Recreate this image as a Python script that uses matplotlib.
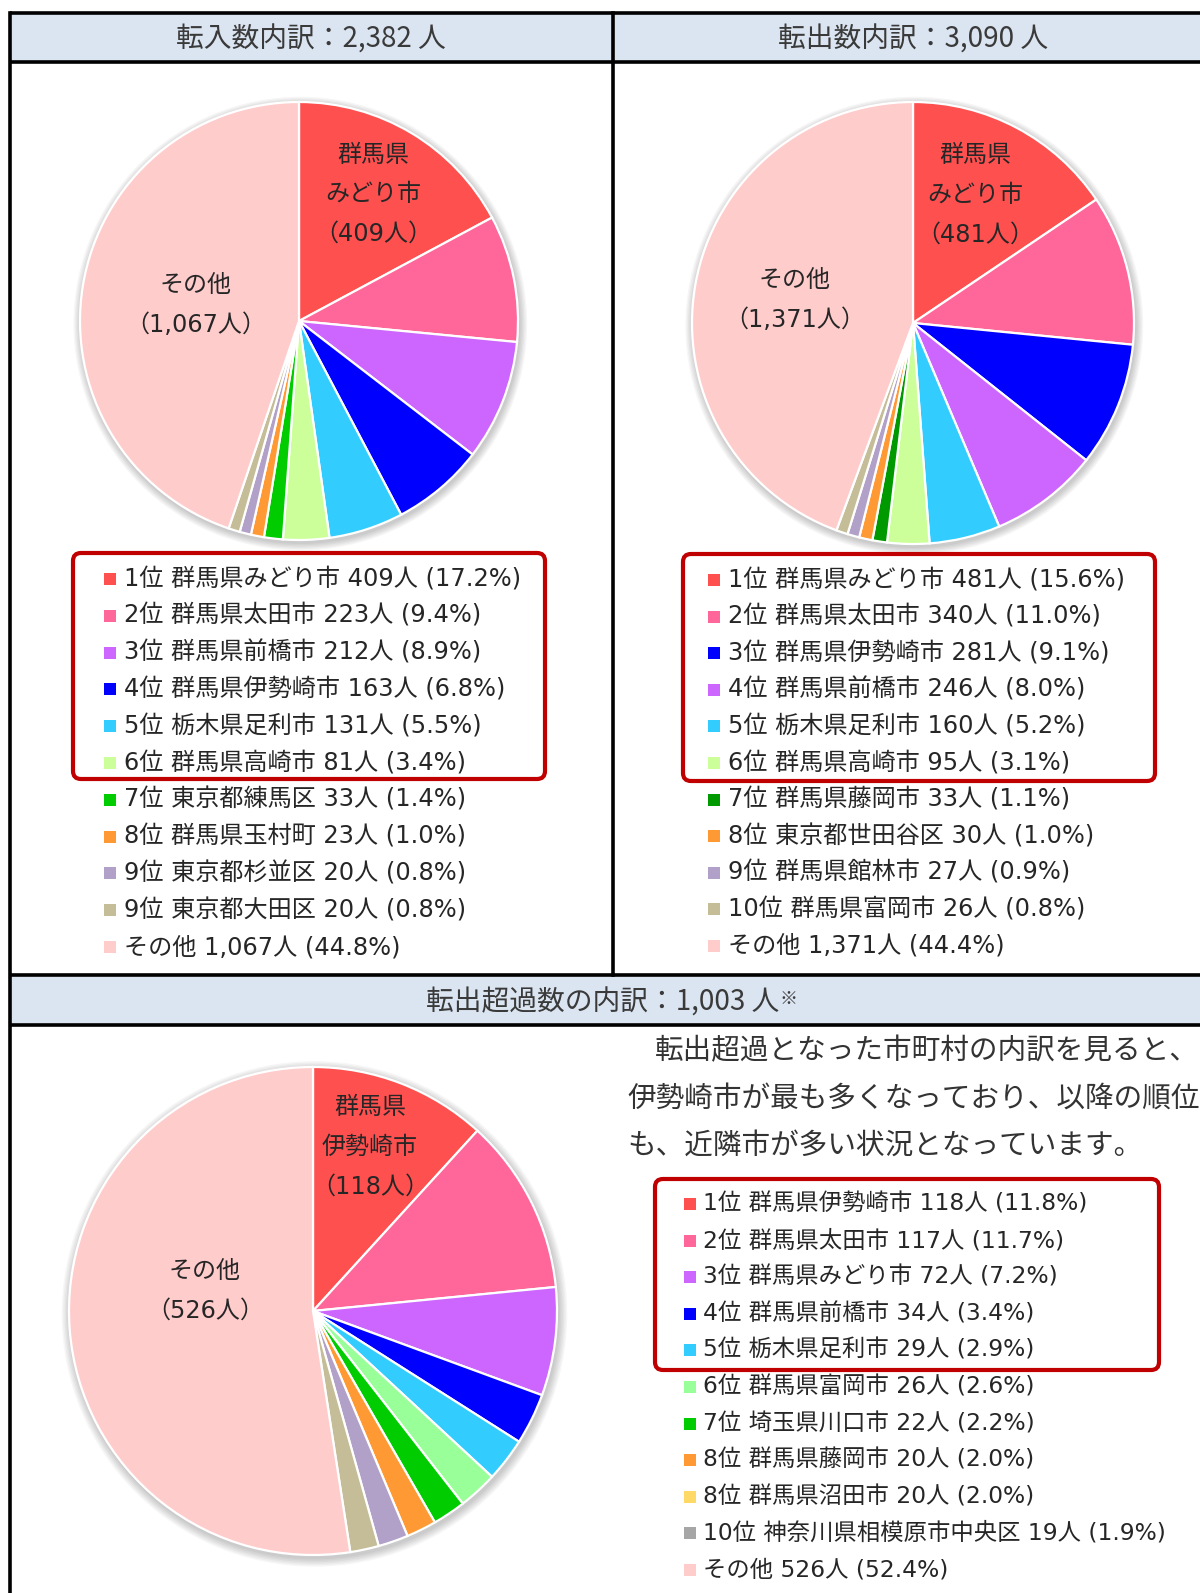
import matplotlib
matplotlib.use('Agg')
import matplotlib.pyplot as plt
from matplotlib.patches import Rectangle, FancyBboxPatch, Circle

plt.rcParams['font.family'] = ['DejaVu Sans', 'Noto Sans CJK JP']

# ---------------- data ----------------
titles = ["転入数内訳：2,382 人", "転出数内訳：3,090 人", "転出超過数の内訳：1,003 人"]
title_note = "※"

in_ranks = ["1位", "2位", "3位", "4位", "5位", "6位", "7位", "8位", "9位", "9位", ""]
in_names = ["群馬県みどり市", "群馬県太田市", "群馬県前橋市", "群馬県伊勢崎市", "栃木県足利市",
            "群馬県高崎市", "東京都練馬区", "群馬県玉村町", "東京都杉並区", "東京都大田区", "その他"]
in_values = [409, 223, 212, 163, 131, 81, 33, 23, 20, 20, 1067]
in_pcts = ["17.2", "9.4", "8.9", "6.8", "5.5", "3.4", "1.4", "1.0", "0.8", "0.8", "44.8"]

out_ranks = ["1位", "2位", "3位", "4位", "5位", "6位", "7位", "8位", "9位", "10位", ""]
out_names = ["群馬県みどり市", "群馬県太田市", "群馬県伊勢崎市", "群馬県前橋市", "栃木県足利市",
             "群馬県高崎市", "群馬県藤岡市", "東京都世田谷区", "群馬県館林市", "群馬県富岡市", "その他"]
out_values = [481, 340, 281, 246, 160, 95, 33, 30, 27, 26, 1371]
out_pcts = ["15.6", "11.0", "9.1", "8.0", "5.2", "3.1", "1.1", "1.0", "0.9", "0.8", "44.4"]

net_ranks = ["1位", "2位", "3位", "4位", "5位", "6位", "7位", "8位", "8位", "10位", ""]
net_names = ["群馬県伊勢崎市", "群馬県太田市", "群馬県みどり市", "群馬県前橋市", "栃木県足利市",
             "群馬県富岡市", "埼玉県川口市", "群馬県藤岡市", "群馬県沼田市", "神奈川県相模原市中央区", "その他"]
net_values = [118, 117, 72, 34, 29, 26, 22, 20, 20, 19, 526]
net_pcts = ["11.8", "11.7", "7.2", "3.4", "2.9", "2.6", "2.2", "2.0", "2.0", "1.9", "52.4"]

RED, PINK, PURPLE, BLUE, CYAN = "#FF5050", "#FF6699", "#CC66FF", "#0000FF", "#33CCFF"
LGREEN, GREEN, DGREEN, ORANGE = "#CCFF99", "#00CC00", "#009900", "#FF9933"
LAV, TAN, OTHER, MINT, YEL, GRAY = "#B1A0C7", "#C4BD97", "#FFCCCC", "#99FF99", "#FFD966", "#A6A6A6"

in_colors = [RED, PINK, PURPLE, BLUE, CYAN, LGREEN, GREEN, ORANGE, LAV, TAN, OTHER]
out_colors = [RED, PINK, BLUE, PURPLE, CYAN, LGREEN, DGREEN, ORANGE, LAV, TAN, OTHER]
net_colors = [RED, PINK, PURPLE, BLUE, CYAN, MINT, GREEN, ORANGE, LAV, TAN, OTHER]
net_legend_colors = [RED, PINK, PURPLE, BLUE, CYAN, MINT, GREEN, ORANGE, YEL, GRAY, OTHER]

paragraph = ["転出超過となった市町村の内訳を見ると、",
             "伊勢崎市が最も多くなっており、以降の順位",
             "も、近隣市が多い状況となっています。"]

# ---------------- figure ----------------
W, H, DPI = 1200, 1593, 100
fig = plt.figure(figsize=(W / DPI, H / DPI), dpi=DPI)
fig.patch.set_facecolor("white")

base = fig.add_axes([0, 0, 1, 1], zorder=0)
base.set_xlim(0, W); base.set_ylim(H, 0); base.axis("off")

HEAD = "#DBE5F1"
LW = 2.6
base.add_patch(Rectangle((10, 13), W - 10, 49, facecolor=HEAD, edgecolor="none"))
base.add_patch(Rectangle((10, 975), W - 10, 50, facecolor=HEAD, edgecolor="none"))
for y in (13, 62, 975, 1025):
    base.plot([10, W], [y, y], color="black", lw=LW, solid_capstyle="butt")
base.plot([10, 10], [13, H], color="black", lw=LW)
base.plot([613, 613], [13, 975], color="black", lw=LW)

TXT = "#3A3A3A"
HFS = 20.0
base.text(311, 40, titles[0], ha="center", va="center", fontsize=HFS, color=TXT,
          family=["Noto Sans CJK JP"])
base.text(913, 40, titles[1], ha="center", va="center", fontsize=HFS, color=TXT,
          family=["Noto Sans CJK JP"])
t3 = base.text(603, 1003, titles[2], ha="center", va="center", fontsize=HFS, color=TXT,
               family=["Noto Sans CJK JP"])
base.annotate(title_note, xy=(1.0, 0.95), xycoords=t3, ha="left", va="top",
              fontsize=13, color=TXT, family=["Noto Sans CJK JP"])


def draw_pie(values, colors, cx, cy, r):
    pad = 1.08
    R = r * pad
    ax = fig.add_axes([(cx - R) / W, 1 - (cy + R) / H, 2 * R / W, 2 * R / H], zorder=1)
    ax.set_xlim(-pad, pad); ax.set_ylim(-pad, pad); ax.set_aspect("equal"); ax.axis("off")
    for k in range(6):
        ax.add_patch(Circle((0.006, -0.012), 1 + 0.006 * (k + 1), facecolor="#000000",
                            alpha=0.035, edgecolor="none", zorder=0))
    ax.add_patch(Circle((0, 0), 1.0, facecolor="white", edgecolor="none", zorder=0.5))
    ax.pie(values, colors=colors, startangle=90, counterclock=False, radius=1.0,
           wedgeprops=dict(edgecolor="white", linewidth=1.6))
    ax.set_xlim(-pad, pad); ax.set_ylim(-pad, pad)
    return ax


draw_pie(in_values, in_colors, 299, 321, 219)
draw_pie(out_values, out_colors, 913, 323, 221)
draw_pie(net_values, net_colors, 313, 1311, 244)

top = fig.add_axes([0, 0, 1, 1], zorder=5)
top.set_xlim(0, W); top.set_ylim(H, 0); top.axis("off")
top.patch.set_alpha(0)

LAB = "#262626"
PFS = 17.3


def pie_label(x, y, lines, spacing=39.5):
    n = len(lines)
    for i, s in enumerate(lines):
        top.text(x, y + (i - (n - 1) / 2) * spacing, s, ha="center", va="center",
                 fontsize=PFS, color=LAB)


pie_label(373, 194, ["群馬県", "みどり市", "（%d人）" % in_values[0]])
pie_label(196, 305, ["その他", "（{:,}人）".format(in_values[-1])])
pie_label(975, 195, ["群馬県", "みどり市", "（%d人）" % out_values[0]])
pie_label(795, 300, ["その他", "（{:,}人）".format(out_values[-1])])
pie_label(370, 1147, ["群馬県", "伊勢崎市", "（%d人）" % net_values[0]])
pie_label(205, 1291, ["その他", "（{:,}人）".format(net_values[-1])])


def legend(ranks, names, values, pcts, colors, sx, tx, y0, dy, box, fs):
    for i in range(len(names)):
        y = y0 + i * dy
        top.add_patch(Rectangle((sx - 6, y - 6), 12, 12, facecolor=colors[i], edgecolor="none"))
        if ranks[i]:
            s = "{} {} {}人 ({}%)".format(ranks[i], names[i], "{:,}".format(values[i]), pcts[i])
        else:
            s = "{} {}人 ({}%)".format(names[i], "{:,}".format(values[i]), pcts[i])
        top.text(tx, y, s, ha="left", va="center", fontsize=fs, color=LAB)
    x0, yb0, x1, yb1 = box
    top.add_patch(FancyBboxPatch((x0, yb0), x1 - x0, yb1 - yb0,
                                 boxstyle="round,pad=0,rounding_size=8",
                                 facecolor="none", edgecolor="#C00000", linewidth=3.0))


legend(in_ranks, in_names, in_values, in_pcts, in_colors, 110, 124, 579, 36.8,
       (73, 553, 545, 779), 17.4)
legend(out_ranks, out_names, out_values, out_pcts, out_colors, 714, 728, 580, 36.6,
       (683, 554, 1155, 781), 17.4)
legend(net_ranks, net_names, net_values, net_pcts, net_legend_colors, 690, 703, 1204, 36.6,
       (655, 1179, 1159, 1370), 16.8)

for i, s in enumerate(paragraph):
    x = 655 if i == 0 else 627
    top.text(x, 1051 + i * 47.5, s, ha="left", va="center", fontsize=20.6, color="#333333",
             family=["Noto Sans CJK JP"])

fig.savefig("out.png", dpi=DPI)
